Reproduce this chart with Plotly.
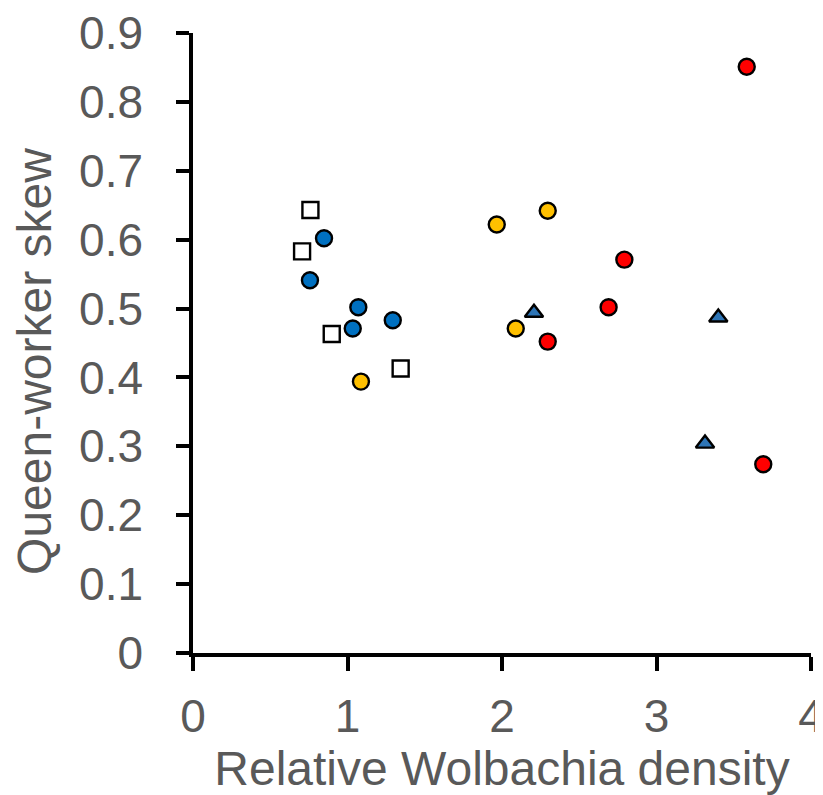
import plotly.graph_objects as go

# White squares
sq_x = [0.76, 0.706, 0.898, 1.344]
sq_y = [0.643, 0.583, 0.463, 0.413]
# Blue circles
bc_x = [0.848, 0.757, 1.070, 1.034, 1.293]
bc_y = [0.602, 0.541, 0.502, 0.471, 0.483]
# Yellow circles
yc_x = [1.087, 1.966, 2.296, 2.089]
yc_y = [0.394, 0.622, 0.642, 0.471]
# Red circles
rc_x = [3.584, 2.792, 2.690, 2.296, 3.691]
rc_y = [0.851, 0.571, 0.502, 0.452, 0.274]
# Blue triangles
tr_x = [2.207, 3.400, 3.314]
tr_y = [0.494, 0.487, 0.304]

x_ticks = [0, 1, 2, 3, 4]
y_ticks = [0, 0.1, 0.2, 0.3, 0.4, 0.5, 0.6, 0.7, 0.8, 0.9]
y_tick_text = ["0", "0.1", "0.2", "0.3", "0.4", "0.5", "0.6", "0.7", "0.8", "0.9"]

fig = go.Figure()

def add(x, y, symbol, color, size):
    fig.add_trace(go.Scatter(
        x=x, y=y, mode="markers", cliponaxis=False,
        marker=dict(symbol=symbol, color=color, size=size,
                    line=dict(color="black", width=2.4)),
        showlegend=False, hoverinfo="x+y"))

add(sq_x, sq_y, "square", "white", 16)
add(bc_x, bc_y, "circle", "#0070C0", 16)
add(yc_x, yc_y, "circle", "#FFC000", 16)
add(rc_x, rc_y, "circle", "#FF0000", 16)
add(tr_x, tr_y, "triangle-up", "#2E75B6", 16)

font = "Liberation Sans, Arial, sans-serif"
fig.update_layout(
    width=815, height=787, autosize=False,
    margin=dict(l=185, r=12, t=25, b=142),
    paper_bgcolor="white", plot_bgcolor="white",
    font=dict(family=font, color="#595959", size=46),
)
fig.update_xaxes(
    range=[0, 4], tickvals=x_ticks, ticktext=[str(v) for v in x_ticks],
    showgrid=False, zeroline=False, automargin=False,
    ticklabeloverflow="allow",
    showline=True, linecolor="black", linewidth=3.5,
    ticks="outside", ticklen=14, tickwidth=3.5, tickcolor="black",
    tickfont=dict(size=46, color="#595959"), ticklabelstandoff=6,
    title=dict(text="Relative Wolbachia density", font=dict(size=48, color="#595959"), standoff=8),
)
fig.update_yaxes(
    range=[0, 0.9], tickvals=y_ticks, ticktext=y_tick_text,
    showgrid=False, zeroline=False, automargin=False,
    ticklabeloverflow="allow",
    showline=True, linecolor="black", linewidth=3.5,
    ticks="outside", ticklen=13, tickwidth=3.5, tickcolor="black",
    tickfont=dict(size=46, color="#595959"), ticklabelstandoff=24,
)
# y-axis title placed as a rotated annotation (slightly below the plot centre, as in the original)
fig.add_annotation(
    text="Queen-worker skew", textangle=-90, showarrow=False,
    xref="paper", yref="paper", x=-0.2557, y=0.471,
    xanchor="center", yanchor="middle",
    font=dict(size=48, color="#595959", family=font),
)

fig.write_html("out.html")
